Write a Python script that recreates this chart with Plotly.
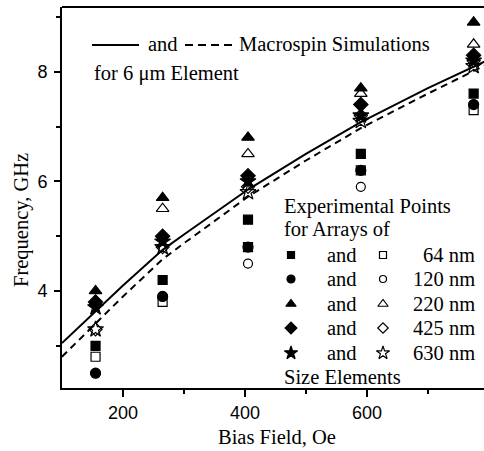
import plotly.graph_objects as go

# ---------------- data ----------------
fields = [155, 265, 405, 590, 775]          # Bias field, Oe
f64_fill = [3.0, 4.2, 5.3, 6.5, 7.6]
f64_open = [2.8, 3.8, 4.8, 6.2, 7.3]
f120_fill = [2.5, 3.9, 4.8, 6.2, 7.4]
f120_open = [2.5, 3.9, 4.5, 5.9, 7.4]
f220_fill = [4.0, 5.7, 6.8, 7.7, 8.9]
f220_open = [3.8, 5.5, 6.5, 7.6, 8.5]
f425_fill = [3.8, 5.0, 6.1, 7.4, 8.3]
f425_open = [3.3, 4.8, 5.9, 7.2, 8.2]
f630_fill = [3.7, 4.9, 6.0, 7.2, 8.2]
f630_open = [3.3, 4.8, 5.8, 7.1, 8.1]

sim_field = [100, 155, 200, 265, 300, 405, 500, 590, 700, 800]
sim_solid = [3.05, 3.62, 4.10, 4.75, 5.03, 5.85, 6.50, 7.08, 7.70, 8.22]
sim_dash = [2.80, 3.40, 3.90, 4.58, 4.87, 5.72, 6.38, 6.97, 7.60, 8.15]

size_labels = ["64 nm", "120 nm", "220 nm", "425 nm", "630 nm"]
x_ticks = [200, 400, 600]
y_ticks = [4, 6, 8]

# ---------------- layout helpers ----------------
W, H = 484, 451
L, R, T, B = 62, 484, 7, 388
def px(x):
    return (x - L) / (R - L)
def py(y):
    return (B - y) / (B - T)

SERIF = "Liberation Serif"
FS = 20.5
BLACK = "black"

fig = go.Figure()

fig.add_trace(go.Scatter(x=sim_field, y=sim_solid, mode="lines",
                         line=dict(color=BLACK, width=2), showlegend=False))
fig.add_trace(go.Scatter(x=sim_field, y=sim_dash, mode="lines",
                         line=dict(color=BLACK, width=2, dash="7px,5px"), showlegend=False))

series = [
    (f64_fill, "square", 9), (f64_open, "square-open", 9),
    (f120_fill, "circle", 10), (f120_open, "circle-open", 9),
    (f220_fill, "triangle-up", 11), (f220_open, "triangle-up-open", 11),
    (f425_fill, "diamond", 11), (f425_open, "diamond-open", 10),
    (f630_fill, "star", 12), (f630_open, "star-open", 12),
]
for vals, sym, sz in series:
    fig.add_trace(go.Scatter(x=fields, y=vals, mode="markers",
                             marker=dict(symbol=sym, size=sz, color=BLACK,
                                         line=dict(color=BLACK, width=1.2)),
                             showlegend=False))

# key markers on an overlay axis (0..1 = plot area)
row_y = [255, 279, 304, 328, 353]
fill_syms = [(s, z) for (_, s, z) in series[0::2]]
open_syms = [(s, z) for (_, s, z) in series[1::2]]
for i, yv in enumerate(row_y):
    for xpos, (sym, sz) in ((291, fill_syms[i]), (383, open_syms[i])):
        fig.add_trace(go.Scatter(x=[px(xpos)], y=[py(yv)], mode="markers",
                                 xaxis="x2", yaxis="y2",
                                 marker=dict(symbol=sym, size=sz - 2, color=BLACK,
                                             line=dict(color=BLACK, width=1.2)),
                                 showlegend=False, hoverinfo="skip"))

ann = []
def text(t, x, y, anchor="left", angle=0):
    ann.append(dict(text=t, x=px(x), y=py(y), xref="paper", yref="paper",
                    xanchor=anchor, yanchor="middle", showarrow=False, textangle=angle,
                    font=dict(family=SERIF, size=FS, color=BLACK)))

text("and", 146, 44)
text("Macrospin Simulations", 237, 44)
text("for 6 \u03bcm Element", 92, 73)
text("Experimental Points", 282, 206)
text("for Arrays of", 282, 230)
for i, yv in enumerate(row_y):
    text("and", 325, yv)
    text(size_labels[i], 421 if i == 0 else 411, yv)
text("Size Elements", 282, 377)
# axis titles
text("Bias Field, Oe", 277, 437, anchor="center")
text("Frequency, GHz", 21, 220, anchor="center", angle=-90)

shapes = [
    dict(type="line", xref="paper", yref="paper", x0=px(92), x1=px(139),
         y0=py(45), y1=py(45), line=dict(color=BLACK, width=2)),
    dict(type="line", xref="paper", yref="paper", x0=px(185), x1=px(233),
         y0=py(45), y1=py(45), line=dict(color=BLACK, width=2, dash="8px,5px")),
    dict(type="line", xref="paper", yref="paper", x0=0, x1=1, y0=1, y1=1,
         line=dict(color=BLACK, width=2)),
]

fig.update_layout(
    width=W, height=H,
    margin=dict(l=L, r=W - R, t=T, b=H - B),
    plot_bgcolor="white", paper_bgcolor="white",
    annotations=ann, shapes=shapes,
    xaxis=dict(range=[100, 792], tickvals=x_ticks, ticks="outside", ticklen=7,
               tickwidth=2, tickcolor=BLACK, showline=True, linecolor=BLACK,
               linewidth=2, showgrid=False, zeroline=False, automargin=False,
               tickfont=dict(family="Liberation Sans", size=18, color=BLACK),
               minor=dict(tickvals=[300, 500, 700], ticks="outside", ticklen=4,
                          tickwidth=2, tickcolor=BLACK)),
    yaxis=dict(range=[2.23, 9.18], tickvals=y_ticks, ticks="outside", ticklen=6,
               tickwidth=2, tickcolor=BLACK, showline=True, linecolor=BLACK,
               linewidth=2, showgrid=False, zeroline=False, automargin=False,
               ticklabelstandoff=3,
               tickfont=dict(family="Liberation Sans", size=18, color=BLACK),
               minor=dict(tickvals=[3, 5, 7, 9], ticks="outside", ticklen=4,
                          tickwidth=2, tickcolor=BLACK)),
    xaxis2=dict(range=[0, 1], overlaying="x", visible=False, fixedrange=True),
    yaxis2=dict(range=[0, 1], overlaying="y", visible=False, fixedrange=True),
)

fig.write_html("out.html", config={"displayModeBar": False},
               post_script="document.body.style.margin='0';")
